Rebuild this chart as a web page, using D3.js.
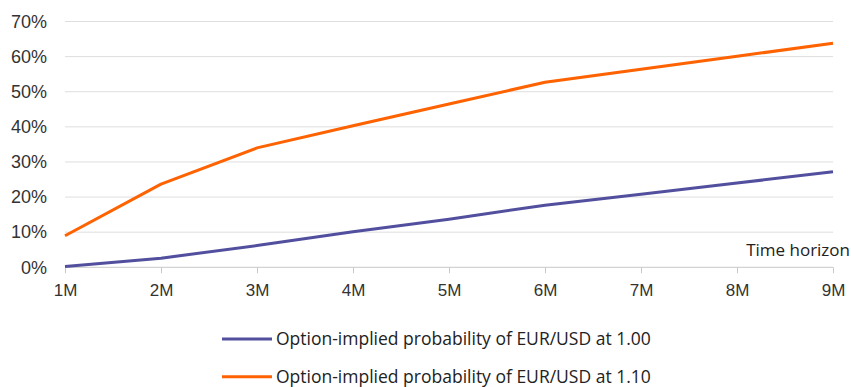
<!DOCTYPE html>
<html>
<head>
<meta charset="utf-8">
<script src="https://cdn.jsdelivr.net/npm/d3@7"></script>
<style>
  html, body { margin: 0; padding: 0; background: #fff; }
  svg { display: block; font-family: "Open Sans", "Noto Sans", sans-serif; }
</style>
</head>
<body>
<svg id="chart" width="851" height="387"></svg>
<script>
// Option-implied probabilities of EUR/USD levels by time horizon
const horizons = ["1M", "2M", "3M", "4M", "5M", "6M", "7M", "8M", "9M"];
const probAt100 = [0.2, 2.6, 6.2, 10.1, 13.7, 17.7, 20.8, 24.0, 27.2];
const probAt110 = [9.0, 23.7, 34.0, 40.3, 46.5, 52.7, 56.4, 60.1, 63.8];
const yTicks = [0, 10, 20, 30, 40, 50, 60, 70];
const seriesNames = [
  "Option-implied probability of EUR/USD at 1.00",
  "Option-implied probability of EUR/USD at 1.10"
];
const seriesColors = ["#524f9e", "#ff6200"];

const svg = d3.select("#chart");
const plotLeft = 65, plotRight = 833, plotTop = 21.5, plotBottom = 267.3;

const x = d3.scalePoint().domain(horizons).range([plotLeft, plotRight]);
const y = d3.scaleLinear().domain([0, 70]).range([plotBottom, plotTop]);

// horizontal gridlines
svg.append("g")
  .selectAll("line")
  .data(yTicks.filter(t => t > 0))
  .join("line")
  .attr("x1", plotLeft).attr("x2", plotRight)
  .attr("y1", d => y(d)).attr("y2", d => y(d))
  .attr("stroke", "#dedede").attr("stroke-width", 1);

// y axis labels
const yAxis = svg.append("g")
  .attr("transform", `translate(${plotLeft},0)`)
  .call(d3.axisLeft(y).tickValues(yTicks).tickFormat(d => d + "%").tickSize(0).tickPadding(18));
yAxis.select(".domain").remove();
yAxis.selectAll("text").attr("font-size", 18).attr("fill", "#333");

// x axis
const xAxis = svg.append("g")
  .attr("transform", `translate(0,${plotBottom})`)
  .call(d3.axisBottom(x).tickSize(6).tickPadding(11));
xAxis.select(".domain").attr("stroke", "#c8c8c8").attr("d", `M${plotLeft},0H${plotRight}`);
xAxis.selectAll(".tick line").attr("stroke", "#c8c8c8");
xAxis.selectAll("text").attr("font-size", 17).attr("fill", "#333");

svg.append("text")
  .attr("x", 850).attr("y", 256)
  .attr("text-anchor", "end")
  .attr("font-size", 17).attr("fill", "#222")
  .text("Time horizon");

// series lines
const line = d3.line().x((d, i) => x(horizons[i])).y(d => y(d));
[probAt100, probAt110].forEach((vals, k) => {
  svg.append("path")
    .datum(vals)
    .attr("d", line)
    .attr("fill", "none")
    .attr("stroke", seriesColors[k])
    .attr("stroke-width", 3)
    .attr("stroke-linejoin", "round");
});

// legend
const legend = svg.append("g");
seriesNames.forEach((name, k) => {
  const ly = 339 + k * 37.7;
  legend.append("line")
    .attr("x1", 222).attr("x2", 272)
    .attr("y1", ly).attr("y2", ly)
    .attr("stroke", seriesColors[k]).attr("stroke-width", 3);
  legend.append("text")
    .attr("x", 276).attr("y", ly)
    .attr("dy", "0.35em")
    .attr("font-size", 17.5).attr("fill", "#222")
    .text(name);
});
</script>
</body>
</html>
